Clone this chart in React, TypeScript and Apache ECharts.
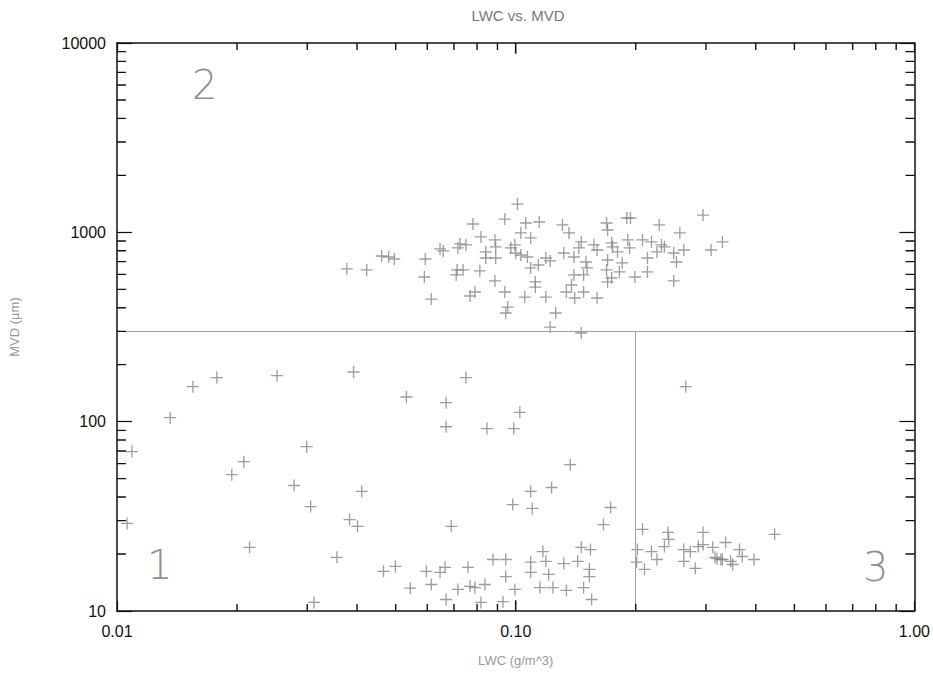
import React, { useEffect, useRef } from "react";
import * as echarts from "echarts";

// LWC (g/m^3), MVD (µm) pairs
const region2Points: number[][] = [
  [0.0377, 641], [0.0423, 633], [0.0461, 750], [0.048, 741], [0.0496, 723],
  [0.0593, 723], [0.059, 581], [0.0614, 444], [0.0646, 817], [0.0658, 798],
  [0.0716, 827], [0.0725, 869], [0.075, 858], [0.0713, 633], [0.0709, 596],
  [0.0738, 633], [0.0813, 626], [0.0781, 1107], [0.0818, 946], [0.0841, 788],
  [0.0841, 732], [0.0887, 912], [0.0891, 838], [0.0891, 732], [0.0939, 1175],
  [0.101, 1410], [0.0995, 858], [0.1, 778], [0.0887, 554], [0.079, 484],
  [0.0768, 461], [0.0939, 484], [0.0955, 403], [0.0944, 375], [0.103, 993],
  [0.106, 1120], [0.1145, 1134], [0.109, 934], [0.0972, 827], [0.103, 759],
  [0.107, 741], [0.109, 649], [0.114, 672], [0.119, 732], [0.122, 706],
  [0.112, 547], [0.112, 514], [0.1054, 455], [0.119, 455], [0.126, 375],
  [0.122, 316], [0.146, 294], [0.131, 1094], [0.136, 993], [0.146, 890],
  [0.144, 827], [0.132, 778], [0.14, 741], [0.15, 697], [0.151, 649],
  [0.148, 596], [0.14, 596], [0.138, 527], [0.134, 484], [0.1406, 450],
  [0.148, 484], [0.16, 450], [0.157, 858], [0.16, 807], [0.169, 1120],
  [0.17, 1029], [0.174, 879], [0.175, 838], [0.17, 714], [0.169, 633],
  [0.174, 574], [0.17, 547], [0.18, 788], [0.185, 689], [0.182, 618],
  [0.19, 1190], [0.194, 1190], [0.191, 912], [0.193, 827], [0.208, 912],
  [0.219, 890], [0.214, 732], [0.214, 618], [0.199, 581], [0.229, 1094],
  [0.232, 858], [0.226, 788], [0.236, 838], [0.249, 778], [0.253, 697],
  [0.258, 993], [0.264, 807], [0.249, 554], [0.295, 1233], [0.309, 807],
  [0.33, 890]
];

const region1Points: number[][] = [
  [0.0109, 69.5], [0.0106, 29.0], [0.0136, 105], [0.0155, 153], [0.0178, 171],
  [0.0252, 175], [0.0392, 183], [0.0299, 73.8], [0.0208, 61.5], [0.0194, 52.5],
  [0.0278, 46.0], [0.0411, 42.8], [0.0306, 35.6], [0.0383, 30.4], [0.0401, 28.0],
  [0.0215, 21.7], [0.0356, 19.2], [0.0466, 16.2], [0.0499, 17.2], [0.0312, 11.1],
  [0.0532, 135], [0.075, 171], [0.0669, 126], [0.0669, 94], [0.0847, 91.9],
  [0.0989, 91.9], [0.1024, 112], [0.137, 59.3], [0.123, 44.9], [0.109, 42.8],
  [0.0983, 36.5], [0.11, 34.8], [0.173, 35.2], [0.166, 28.6], [0.0689, 28.0],
  [0.0597, 16.2], [0.0665, 17.0], [0.0646, 16.0], [0.0759, 17.0], [0.0544, 13.2],
  [0.0614, 13.8], [0.0669, 11.5], [0.0716, 13.0], [0.0768, 13.5], [0.079, 13.3],
  [0.0837, 13.8], [0.0818, 11.1], [0.0877, 18.7], [0.0944, 18.7], [0.0944, 15.2],
  [0.0929, 11.2], [0.0995, 13.0], [0.109, 18.1], [0.109, 16.0], [0.117, 20.6],
  [0.119, 18.3], [0.121, 15.6], [0.115, 13.3], [0.124, 13.3], [0.132, 17.8],
  [0.134, 12.85], [0.146, 21.7], [0.154, 21.1], [0.143, 18.3], [0.153, 16.6],
  [0.153, 15.2], [0.148, 13.3], [0.155, 11.5]
];

const region3Points: number[][] = [
  [0.208, 27.0], [0.202, 21.1], [0.201, 18.1], [0.2104, 16.6], [0.219, 20.6],
  [0.226, 18.7], [0.241, 26.0], [0.242, 23.9], [0.236, 21.9], [0.264, 21.1],
  [0.264, 18.3], [0.274, 20.6], [0.282, 16.8], [0.295, 26.0], [0.295, 22.4],
  [0.287, 21.9], [0.312, 21.7], [0.316, 19.2], [0.336, 23.0], [0.327, 18.7],
  [0.346, 18.3], [0.35, 17.6], [0.364, 21.1], [0.37, 19.4], [0.396, 18.7],
  [0.446, 25.4], [0.267, 153], [0.32, 18.9], [0.33, 18.7]
];

const mvdThreshold = 300;
const lwcThreshold = 0.2;

const xRange = [0.01, 1];
const yRange = [10, 10000];
const xMajorTicks = [0.1];
const xMinorTicks = [0.02, 0.03, 0.04, 0.05, 0.06, 0.07, 0.08, 0.09, 0.2, 0.3, 0.4, 0.5, 0.6, 0.7, 0.8, 0.9];
const yMinorTicks = [20, 30, 40, 50, 60, 70, 80, 90, 200, 300, 400, 500, 600, 700, 800, 900, 2000, 3000, 4000, 5000, 6000, 7000, 8000, 9000];

const regionLabels = [
  { name: "2", coord: [0.0166, 5970] },
  { name: "1", coord: [0.0128, 17.6] },
  { name: "3", coord: [0.8, 17.0] }
];

const crossSymbol = "path://M0,4.45H10V5.55H0Z M4.45,0H5.55V10H4.45Z";
const markerColor = "#858585";
const font = "Liberation Sans, DejaVu Sans, sans-serif";

// tick lengths expressed as log-space ratios (≈7 px on x, ≈9 px on y, ≈11 px for majors)
const xMinorRatio = 1.09;
const xMajorRatio = 1.14;
const yMinorRatio = 1.053;

export default function App() {
  const ref = useRef<HTMLDivElement>(null);
  useEffect(() => {
    if (!ref.current) return;
    const chart = echarts.init(ref.current, undefined, { renderer: "svg" });
    const axisLine = { show: true, lineStyle: { color: "#111", width: 1.5 } };
    const majorTick = (len: number) => ({ show: true, inside: true, length: len, lineStyle: { color: "#111", width: 1.2 } });

    // every tick segment as a pair of data points, separated by gaps
    const tickSegments: any[] = [];
    const seg = (a: number[], b: number[]) => { tickSegments.push(a, b, "-"); };
    xMinorTicks.forEach((v) => {
      seg([v, yRange[0]], [v, yRange[0] * xMinorRatio]);
      seg([v, yRange[1]], [v, yRange[1] / xMinorRatio]);
    });
    xMajorTicks.forEach((v) => {
      seg([v, yRange[0]], [v, yRange[0] * xMajorRatio]);
      seg([v, yRange[1]], [v, yRange[1] / xMajorRatio]);
    });
    yMinorTicks.forEach((v) => {
      seg([xRange[0], v], [xRange[0] * yMinorRatio, v]);
      seg([xRange[1], v], [xRange[1] / yMinorRatio, v]);
    });

    const option: any = {
      animation: false,
      backgroundColor: "#fff",
      title: {
        text: "LWC vs. MVD",
        left: 513,
        top: 3,
        textAlign: "center",
        textStyle: { color: "#777", fontSize: 15, fontWeight: "normal", fontFamily: font }
      },
      grid: { left: 112, right: 17, top: 43, bottom: 62, containLabel: false },
      xAxis: [
        {
          type: "log", logBase: 10, min: xRange[0], max: xRange[1], position: "bottom",
          name: "LWC (g/m^3)", nameLocation: "middle", nameGap: 43,
          nameTextStyle: { color: "#999", fontSize: 13, fontFamily: font },
          axisLine,
          axisTick: majorTick(10),
          axisLabel: {
            color: "#111", fontSize: 16, fontFamily: font, margin: 12,
            formatter: (v: number) => v.toFixed(2)
          },
          splitLine: { show: false }
        },
        {
          type: "log", logBase: 10, min: xRange[0], max: xRange[1], position: "top",
          axisLine,
          axisTick: majorTick(10),
          axisLabel: { show: false },
          splitLine: { show: false }
        }
      ],
      yAxis: [
        {
          type: "log", logBase: 10, min: yRange[0], max: yRange[1], position: "left",
          name: "MVD (µm)", nameLocation: "middle", nameGap: 96, nameRotate: 90,
          nameTextStyle: { color: "#999", fontSize: 13, fontFamily: font },
          axisLine,
          axisTick: majorTick(15),
          axisLabel: {
            color: "#111", fontSize: 16, fontFamily: font, margin: 11,
            formatter: (v: number) => String(Math.round(v))
          },
          splitLine: { show: false }
        },
        {
          type: "log", logBase: 10, min: yRange[0], max: yRange[1], position: "right",
          axisLine,
          axisTick: majorTick(15),
          axisLabel: { show: false },
          splitLine: { show: false }
        }
      ],
      series: [
        {
          type: "line", name: "ticks", data: tickSegments,
          xAxisIndex: 0, yAxisIndex: 0,
          showSymbol: false, symbol: "none", connectNulls: false,
          silent: true, clip: false, z: 6,
          lineStyle: { color: "#111", width: 1.4 },
          emphasis: { disabled: true }
        },
        {
          type: "scatter", name: "region1", data: region1Points,
          xAxisIndex: 0, yAxisIndex: 0,
          symbol: crossSymbol, symbolSize: 12,
          itemStyle: { color: markerColor },
          markLine: {
            silent: true, symbol: ["none", "none"], label: { show: false },
            lineStyle: { color: "#a0a0a0", type: "solid", width: 1 },
            data: [
              { yAxis: mvdThreshold },
              [{ coord: [lwcThreshold, yRange[0]] }, { coord: [lwcThreshold, mvdThreshold] }]
            ]
          },
          markPoint: {
            silent: true, symbol: "rect", symbolSize: 1,
            itemStyle: { color: "rgba(0,0,0,0)" },
            label: {
              show: true, position: "inside", formatter: (p: any) => p.name,
              color: "#8f8f8f", fontSize: 40, fontWeight: 200, fontFamily: "DejaVu Sans, sans-serif"
            },
            data: regionLabels
          }
        },
        {
          type: "scatter", name: "region2", data: region2Points,
          xAxisIndex: 0, yAxisIndex: 0,
          symbol: crossSymbol, symbolSize: 12,
          itemStyle: { color: markerColor }
        },
        {
          type: "scatter", name: "region3", data: region3Points,
          xAxisIndex: 0, yAxisIndex: 0,
          symbol: crossSymbol, symbolSize: 12,
          itemStyle: { color: markerColor }
        }
      ]
    };
    chart.setOption(option);
    return () => chart.dispose();
  }, []);
  return (
    <div
      ref={ref}
      style={{ position: "fixed", left: 0, top: 0, width: 933, height: 673, background: "#fff" }}
    />
  );
}
